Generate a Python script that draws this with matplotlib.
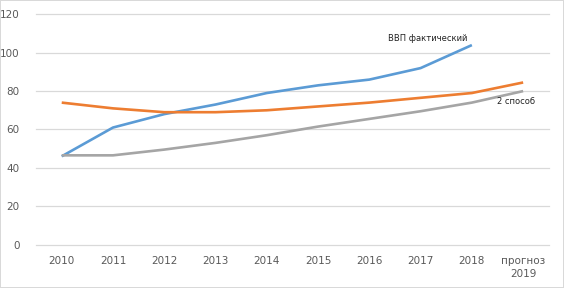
import matplotlib
matplotlib.use("Agg")
import matplotlib.pyplot as plt

years = ["2010", "2011", "2012", "2013", "2014", "2015", "2016", "2017", "2018", "прогноз\n2019"]
vvp_fact = [46, 61, 68, 73, 79, 83, 86, 92, 104]
series_orange = [74, 71, 69, 69, 70, 72, 74, 76.5, 79, 84.5]
sposob2 = [46.5, 46.5, 49.5, 53, 57, 61.5, 65.5, 69.5, 74, 80]

fig = plt.figure(figsize=(5.64, 2.88), dpi=100)
fig.patch.set_edgecolor("#d9d9d9")
fig.patch.set_linewidth(1.2)
ax = fig.add_axes([0.064, 0.151, 0.909, 0.799])

x = list(range(len(years)))
ax.plot(x[:len(vvp_fact)], vvp_fact, color="#5b9bd5", lw=1.9, solid_capstyle="butt")
ax.plot(x, series_orange, color="#ed7d31", lw=1.9, solid_capstyle="butt")
ax.plot(x, sposob2, color="#a5a5a5", lw=1.9, solid_capstyle="butt")

ax.set_xlim(-0.5, 9.5)
ax.set_ylim(0, 120)
ax.set_yticks(range(0, 121, 20))
ax.set_xticks(x)
ax.set_xticklabels(years, linespacing=1.4)
ax.grid(axis="y", color="#d9d9d9", lw=0.9)
for gl in ax.get_ygridlines():
    gl.set_clip_on(False)
ax.set_axisbelow(True)
for s in ax.spines.values():
    s.set_visible(False)
ax.tick_params(length=0, labelsize=7.5, colors="#595959", pad=8)
ax.tick_params(axis="y", pad=12)

ax.text(6.36, 107.5, "ВВП фактический", fontsize=6, color="#222222", ha="left", va="center")
ax.text(8.49, 74.5, "2 способ", fontsize=6, color="#222222", ha="left", va="center")

fig.savefig("out.png", dpi=100, edgecolor=fig.get_edgecolor())
